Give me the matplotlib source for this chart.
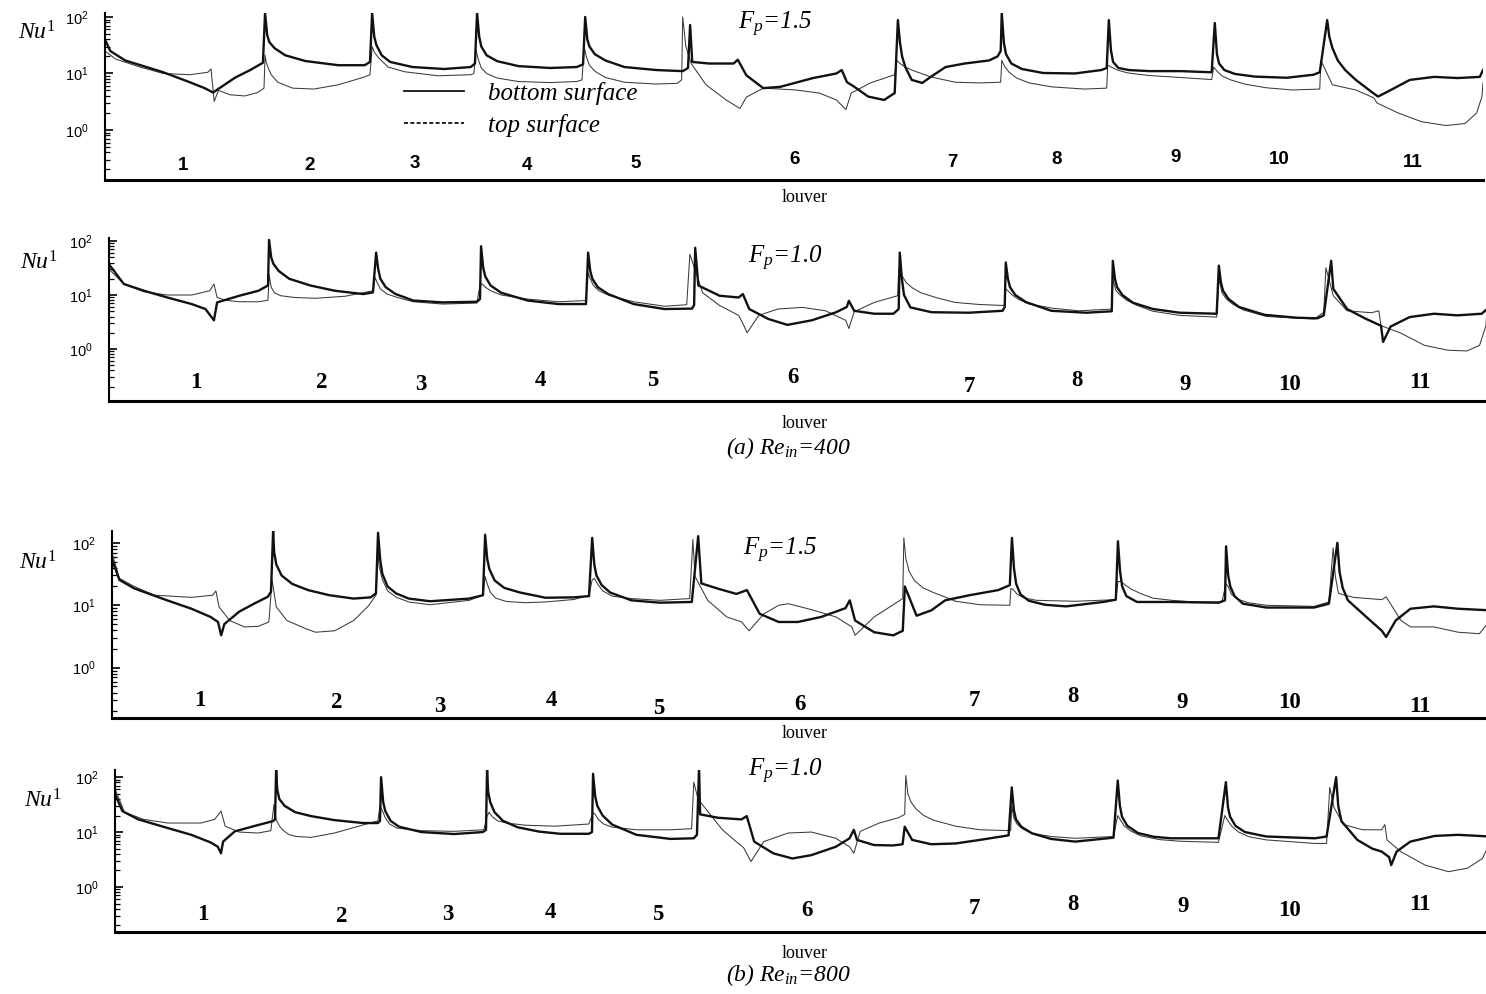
import numpy as np
import matplotlib
matplotlib.use('Agg')
import matplotlib.pyplot as plt
from matplotlib.lines import Line2D
from matplotlib.transforms import blended_transform_factory

# Nu along the fin, x in louver pitches from the entrance
# ---- (a) Re_in=400, Fp=1.5
p1_bottom = [
    (0.00, 40), (0.05, 25), (0.19, 17), (0.55, 10.5), (0.80, 7.0), (0.94, 5.5), (1.02, 4.6),
    (1.08, 5.5), (1.23, 8.5), (1.37, 11.5), (1.49, 15.5),
    (1.51, 118), (1.53, 48), (1.55, 36), (1.60, 28), (1.70, 21), (1.89, 16.6), (2.20, 14), (2.45, 14), (2.50, 16),
    (2.52, 118), (2.54, 45), (2.56, 32), (2.61, 21), (2.69, 16), (2.90, 13), (3.20, 12), (3.45, 13), (3.49, 15),
    (3.51, 118), (3.53, 45), (3.55, 30), (3.60, 21), (3.70, 16.5), (3.90, 13.5), (4.20, 12.5), (4.45, 13), (4.51, 14.5),
    (4.53, 100), (4.55, 40), (4.57, 30), (4.62, 22), (4.72, 17), (4.90, 13), (5.20, 11.5), (5.45, 11), (5.50, 12.5),
    (5.52, 72), (5.54, 16), (5.70, 15), (5.93, 15), (5.97, 17.5), (6.05, 9.3), (6.21, 5.5),
    (6.37, 5.8), (6.68, 8.3), (6.90, 10), (6.95, 11.5), (7.00, 7), (7.07, 5.8), (7.20, 3.9),
    (7.35, 3.4), (7.45, 4.5),
    (7.48, 88), (7.50, 35), (7.52, 20), (7.55, 13), (7.61, 7.7), (7.71, 6.8), (7.79, 8.7), (7.93, 13),
    (8.11, 15), (8.34, 17), (8.42, 20), (8.45, 25),
    (8.46, 118), (8.48, 35), (8.50, 22), (8.55, 15), (8.65, 12), (8.85, 10.2), (9.15, 10), (9.40, 11.5), (9.45, 12.5),
    (9.47, 88), (9.49, 26), (9.51, 16), (9.56, 12.5), (9.66, 11.5), (9.85, 11), (10.15, 11), (10.44, 10.5),
    (10.47, 78), (10.49, 22), (10.51, 15), (10.56, 11.5), (10.66, 9.8), (10.85, 8.8), (11.15, 8.4), (11.40, 9.5), (11.46, 10.5),
    (11.53, 88), (11.55, 45), (11.58, 28), (11.63, 17), (11.70, 11.5), (11.80, 7.7), (11.95, 4.7),
    (12.01, 3.9), (12.13, 5.1), (12.31, 7.7), (12.54, 8.7), (12.76, 8.3), (12.97, 8.7), (13.00, 11.5),
]
p1_top = [
    (0.00, 25), (0.10, 18), (0.33, 13), (0.55, 10), (0.80, 9.5), (0.97, 10.5), (1.00, 12),
    (1.03, 3.2), (1.07, 5), (1.18, 4.2), (1.32, 4.0), (1.44, 4.6), (1.50, 5.5),
    (1.51, 21), (1.52, 16), (1.54, 12.5), (1.57, 9.4), (1.63, 7.0), (1.77, 5.5), (1.97, 5.3), (2.20, 6.3), (2.45, 8.7), (2.50, 9.5),
    (2.52, 30), (2.54, 24), (2.58, 19), (2.67, 13), (2.83, 10.7), (3.14, 9.1), (3.45, 9.5), (3.48, 10),
    (3.50, 26), (3.52, 18), (3.55, 12.5), (3.60, 10), (3.70, 8.3), (3.90, 7.2), (4.20, 6.9), (4.45, 7.2), (4.50, 7.7),
    (4.52, 30), (4.54, 20), (4.57, 14), (4.62, 11), (4.72, 8.5), (4.90, 7), (5.20, 6.5), (5.40, 6.7), (5.44, 7.7),
    (5.45, 100), (5.48, 30), (5.53, 15), (5.67, 6.3), (5.86, 3.4), (5.99, 2.4), (6.05, 3.8),
    (6.21, 5.5), (6.52, 5.1), (6.74, 4.5), (6.90, 3.4), (6.99, 2.3), (7.04, 4.5), (7.22, 6.8), (7.45, 9.5),
    (7.47, 17), (7.50, 15), (7.55, 13), (7.61, 11.5), (7.70, 10), (7.79, 8.7), (8.02, 7), (8.25, 6.8), (8.45, 7),
    (8.46, 17), (8.49, 13), (8.53, 10.5), (8.60, 8.3), (8.72, 6.8), (8.93, 5.8), (9.24, 5.3), (9.45, 5.5),
    (9.46, 14), (9.49, 13), (9.55, 11.5), (9.65, 10.2), (9.85, 9.2), (10.10, 8.6), (10.44, 7.8),
    (10.46, 13), (10.49, 11), (10.54, 9), (10.62, 7.7), (10.75, 6.5), (10.95, 5.6), (11.20, 5.1), (11.46, 5.3),
    (11.47, 17), (11.58, 6.3), (11.80, 5.1), (11.97, 3.7), (12.00, 3.0), (12.20, 2.0),
    (12.42, 1.4), (12.65, 1.2), (12.83, 1.3), (12.94, 2.0), (12.99, 3.9), (13.00, 6.8),
]
# ---- (a) Re_in=400, Fp=1.0
p2_bottom = [
    (0.00, 37), (0.14, 16), (0.33, 12), (0.55, 9), (0.78, 6.8), (0.91, 5.5), (0.99, 3.4),
    (1.02, 7.3), (1.23, 9.7), (1.41, 12), (1.50, 15),
    (1.51, 105), (1.53, 50), (1.55, 38), (1.60, 28), (1.70, 20), (1.90, 15), (2.13, 12), (2.40, 10.4), (2.49, 11.2),
    (2.52, 61), (2.54, 30), (2.56, 20), (2.61, 14), (2.70, 10.5), (2.87, 7.9), (3.15, 7.3), (3.47, 7.5), (3.50, 8.4),
    (3.51, 80), (3.53, 32), (3.55, 22), (3.60, 15), (3.70, 11), (3.95, 7.9), (4.24, 6.8), (4.50, 6.8),
    (4.52, 61), (4.54, 28), (4.56, 20), (4.61, 14), (4.71, 10.4), (4.95, 6.8), (5.24, 5.5), (5.50, 5.6), (5.52, 6.5),
    (5.53, 75), (5.56, 15), (5.76, 9.7), (5.94, 9), (5.98, 10.4), (6.04, 5.5), (6.22, 3.6),
    (6.40, 2.8), (6.63, 3.4), (6.86, 4.8), (6.96, 6), (6.98, 7.8), (7.03, 5.1), (7.22, 4.5),
    (7.40, 4.5), (7.45, 5.5),
    (7.46, 61), (7.48, 20), (7.50, 10), (7.56, 5.9), (7.76, 4.8), (8.11, 4.7), (8.43, 5.1), (8.45, 6),
    (8.46, 40), (8.48, 20), (8.50, 14), (8.55, 10), (8.65, 7.4), (8.89, 5.1), (9.22, 4.7), (9.46, 5),
    (9.47, 43), (9.49, 20), (9.51, 14), (9.56, 10), (9.66, 7.2), (9.85, 5.5), (10.10, 4.7), (10.45, 4.5),
    (10.47, 35), (10.49, 17), (10.51, 12), (10.56, 8.5), (10.66, 6), (10.90, 4.3), (11.20, 3.8), (11.40, 3.7), (11.46, 4.2),
    (11.53, 43), (11.55, 13), (11.68, 5.5), (11.86, 3.6), (12.00, 2.7), (12.02, 1.35),
    (12.09, 2.6), (12.27, 3.9), (12.50, 4.5), (12.72, 4.2), (12.95, 4.5), (13.00, 5.5),
]
p2_top = [
    (0.00, 30), (0.14, 16), (0.33, 11.5), (0.55, 10), (0.78, 10), (0.95, 12), (0.99, 16),
    (1.02, 9), (1.10, 8), (1.23, 7.5), (1.41, 7.5), (1.50, 8),
    (1.51, 24), (1.53, 14), (1.56, 11), (1.62, 9.7), (1.75, 9), (1.95, 8.7), (2.23, 9.5), (2.49, 12),
    (2.51, 21), (2.53, 17), (2.56, 13), (2.62, 10.5), (2.72, 9), (2.87, 7.5), (3.15, 6.8), (3.47, 7.1), (3.50, 15),
    (3.52, 16), (3.55, 14), (3.60, 12), (3.70, 10), (3.95, 8.4), (4.24, 7.5), (4.50, 7.9),
    (4.52, 26), (4.54, 20), (4.57, 15), (4.62, 12), (4.72, 9.8), (4.95, 7.5), (5.24, 6.2), (5.45, 6.6),
    (5.48, 57), (5.60, 11), (5.76, 6.4), (5.94, 4.2), (5.99, 2.7), (6.02, 2.0), (6.13, 4.2),
    (6.31, 5.5), (6.54, 5.9), (6.76, 5.1), (6.95, 3.4), (6.98, 2.4), (7.03, 4.9), (7.22, 7.3), (7.44, 9.7),
    (7.45, 30), (7.48, 23), (7.52, 17), (7.58, 13.5), (7.66, 11), (7.80, 9), (7.98, 7.3), (8.20, 6.7), (8.43, 6.4), (8.45, 6.6),
    (8.46, 13), (8.48, 12), (8.52, 10), (8.58, 8.3), (8.68, 6.8), (8.90, 5.7), (9.15, 5.1), (9.46, 5.5),
    (9.47, 20), (9.50, 12), (9.54, 10), (9.60, 8), (9.70, 6.4), (9.85, 5.0), (10.10, 4.2), (10.45, 3.9),
    (10.47, 20), (10.50, 11), (10.54, 8.5), (10.60, 6.8), (10.70, 5.3), (10.92, 4.0), (11.37, 3.6), (11.46, 4.8),
    (11.48, 32), (11.55, 9.7), (11.68, 5.1), (11.91, 4.7), (11.98, 5.1), (12.00, 2.7),
    (12.18, 2.0), (12.41, 1.17), (12.63, 0.95), (12.81, 0.92), (12.93, 1.17), (12.99, 2.7), (13.00, 5.5),
]
# ---- (b) Re_in=800, Fp=1.5
p3_bottom = [
    (0.00, 54), (0.07, 25.5), (0.21, 18.6), (0.52, 12), (0.75, 8.8), (0.93, 6.5), (1.00, 5.4),
    (1.03, 3.3), (1.06, 5), (1.20, 7.9), (1.34, 10.6), (1.47, 13.7), (1.50, 16.5),
    (1.52, 155), (1.53, 70), (1.55, 45), (1.60, 30), (1.70, 22), (1.85, 17.5), (2.05, 14.5), (2.28, 12.8), (2.44, 13.4), (2.49, 15.5),
    (2.51, 145), (2.53, 54), (2.55, 32), (2.60, 20), (2.68, 15.5), (2.80, 12.8), (3.00, 11.6), (3.37, 12.8), (3.50, 14.5),
    (3.52, 135), (3.54, 55), (3.56, 38), (3.61, 25), (3.70, 19), (3.85, 16), (4.09, 13.2), (4.36, 13.4), (4.50, 14),
    (4.53, 120), (4.55, 45), (4.57, 30), (4.62, 21), (4.70, 16), (4.90, 12), (5.17, 11), (5.47, 11.3),
    (5.53, 128), (5.56, 22.4), (5.71, 18.6), (5.89, 15.2), (5.99, 17.5), (6.11, 7.3), (6.29, 5.4),
    (6.47, 5.4), (6.69, 6.5), (6.92, 9), (6.96, 12), (7.01, 5.7), (7.19, 3.7), (7.37, 3.3), (7.46, 3.9),
    (7.48, 20), (7.59, 6.8), (7.73, 8.3), (7.86, 12), (8.09, 14.5), (8.36, 17.5), (8.47, 21),
    (8.49, 120), (8.51, 38), (8.53, 22), (8.57, 15), (8.65, 11.8), (8.80, 10.2), (9.00, 9.6), (9.35, 11.3), (9.47, 12.3),
    (9.49, 106), (9.51, 35), (9.53, 20), (9.57, 14), (9.67, 11.3), (9.99, 11.3), (10.44, 11), (10.50, 12),
    (10.51, 88), (10.53, 30), (10.55, 20), (10.59, 14), (10.67, 10.6), (10.89, 9.2), (11.34, 9.2), (11.48, 10.6),
    (11.56, 100), (11.58, 35), (11.61, 19), (11.66, 12), (11.80, 7.3), (11.98, 3.9), (12.02, 3.1), (12.11, 5.7),
    (12.25, 8.8), (12.47, 9.6), (12.70, 8.8), (13.00, 8.3),
]
p3_top = [
    (0.00, 69), (0.07, 27), (0.21, 20), (0.40, 14.5), (0.75, 13.4), (0.95, 14.5), (0.98, 17),
    (1.01, 9.4), (1.11, 5.7), (1.25, 4.5), (1.38, 4.6), (1.48, 5.4),
    (1.51, 25.5), (1.55, 9.4), (1.65, 5.7), (1.83, 4.2), (1.92, 3.7), (2.10, 3.9), (2.28, 5.7),
    (2.42, 9.8), (2.49, 14.5),
    (2.51, 69), (2.52, 42), (2.55, 26), (2.60, 17), (2.68, 13.5), (2.80, 11.3), (3.00, 10.2), (3.37, 12), (3.50, 14.5),
    (3.52, 29), (3.54, 22), (3.57, 16), (3.62, 13), (3.72, 11.5), (3.90, 11), (4.09, 11.3), (4.36, 12.4), (4.50, 14.5),
    (4.53, 25.5), (4.55, 27), (4.58, 22), (4.63, 17), (4.72, 14), (4.90, 12.8), (5.17, 12), (5.45, 12.8),
    (5.48, 113), (5.50, 29), (5.62, 12), (5.80, 6.5), (5.94, 5.4), (6.01, 3.9), (6.15, 7.3),
    (6.29, 10), (6.38, 10.6), (6.60, 8.5), (6.83, 6.5), (6.98, 4.5), (7.01, 3.3), (7.19, 6.5), (7.46, 12.8),
    (7.47, 120), (7.49, 55), (7.52, 35), (7.57, 25), (7.65, 19), (7.75, 16), (7.96, 11.6), (8.19, 10.2), (8.47, 10),
    (8.48, 18.6), (8.50, 18), (8.54, 15), (8.60, 13.2), (8.72, 12), (9.09, 11.6), (9.47, 12.3),
    (9.49, 24), (9.52, 24), (9.56, 21), (9.62, 18), (9.70, 15.5), (9.82, 13), (10.00, 12), (10.22, 11.3), (10.47, 11.3),
    (10.51, 22), (10.53, 20), (10.56, 15), (10.62, 12.5), (10.72, 11), (10.89, 10), (11.34, 9.6), (11.48, 11.3),
    (11.52, 83), (11.54, 30), (11.57, 15.5), (11.71, 13.4), (11.98, 12.3), (12.02, 13.7), (12.07, 10),
    (12.16, 5.7), (12.25, 4.5), (12.47, 4.5), (12.70, 3.7), (12.90, 3.5), (13.00, 5.7),
]
# ---- (b) Re_in=800, Fp=1.0
p4_bottom = [
    (0.00, 49), (0.07, 24), (0.22, 17), (0.50, 11.8), (0.72, 8.9), (0.90, 6.5), (0.97, 5.4),
    (1.00, 4.1), (1.02, 6.7), (1.13, 10.3), (1.31, 12.8), (1.49, 15.8), (1.51, 17),
    (1.52, 143), (1.53, 60), (1.55, 40), (1.60, 30), (1.70, 23), (1.85, 19.5), (2.07, 16.5), (2.34, 14.6), (2.48, 14.6), (2.50, 16),
    (2.51, 100), (2.53, 35), (2.55, 24), (2.60, 16), (2.68, 12.5), (2.89, 10), (3.20, 9.2), (3.47, 10), (3.50, 11),
    (3.51, 143), (3.52, 55), (3.54, 35), (3.58, 23), (3.66, 16), (3.80, 12.2), (4.00, 10.2), (4.20, 9.3), (4.47, 9.3), (4.50, 10),
    (4.51, 115), (4.53, 45), (4.55, 30), (4.60, 20), (4.69, 13.7), (4.92, 8.9), (5.24, 7.5), (5.46, 7.7), (5.49, 8.9),
    (5.51, 150), (5.52, 21), (5.69, 18.2), (5.91, 17), (5.96, 19.5), (6.03, 6.7), (6.21, 4.1),
    (6.39, 3.3), (6.57, 3.8), (6.80, 5.4), (6.93, 7.7), (6.97, 11), (7.00, 7.2), (7.16, 5.8),
    (7.34, 5.7), (7.43, 6.0), (7.45, 12.5),
    (7.52, 7.2), (7.70, 6.0), (7.93, 6.2), (8.16, 7.2), (8.43, 8.7),
    (8.46, 65), (8.48, 25), (8.50, 17), (8.55, 12.5), (8.65, 9.5), (8.83, 7.5), (9.06, 6.7), (9.42, 7.9),
    (9.46, 87), (9.48, 30), (9.50, 19), (9.55, 13), (9.65, 9.6), (9.80, 8.2), (9.96, 7.7), (10.41, 7.7),
    (10.48, 81), (10.50, 28), (10.52, 19), (10.57, 13), (10.66, 10), (10.86, 8.3), (11.32, 7.7), (11.43, 8.3),
    (11.52, 100), (11.54, 30), (11.57, 15.8), (11.72, 7.2), (11.86, 5.0), (11.95, 4.4), (12.02, 3.5),
    (12.04, 2.5), (12.09, 4.4), (12.22, 6.7), (12.45, 8.5), (12.67, 8.9), (12.97, 8.3),
]
p4_top = [
    (0.00, 61), (0.09, 23), (0.27, 17), (0.50, 14.6), (0.81, 14.6), (0.94, 17), (1.00, 24),
    (1.04, 12.8), (1.17, 10), (1.35, 9.6), (1.47, 10.6), (1.50, 32),
    (1.52, 17), (1.55, 13), (1.58, 11), (1.64, 9), (1.71, 8.3), (1.85, 8), (2.07, 9.6), (2.30, 12.8), (2.48, 16), (2.50, 30),
    (2.52, 25), (2.55, 18.2), (2.59, 14), (2.66, 11.8), (2.89, 10.6), (3.20, 10.3), (3.48, 11), (3.51, 19.5),
    (3.53, 23), (3.56, 19), (3.61, 16), (3.70, 14.5), (3.88, 13.3), (4.15, 12.8), (4.47, 14), (4.51, 22.5),
    (4.53, 21), (4.56, 17), (4.61, 14), (4.69, 12.3), (4.92, 11), (5.24, 11), (5.44, 11.5),
    (5.46, 81), (5.50, 40), (5.59, 24), (5.73, 11), (5.86, 6.7), (5.93, 5.2), (6.00, 2.9), (6.12, 6.7),
    (6.35, 9.6), (6.57, 10), (6.80, 7.7), (6.93, 5.4), (6.97, 4.1), (7.03, 10.3), (7.21, 14.6),
    (7.39, 18.2), (7.45, 21),
    (7.46, 107), (7.48, 50), (7.51, 35), (7.56, 26), (7.63, 20), (7.72, 16.5), (7.93, 12.8), (8.16, 11), (8.45, 10.6),
    (8.46, 30), (8.48, 18), (8.51, 14), (8.56, 11.5), (8.65, 9.5), (8.83, 8.3), (9.06, 7.7), (9.42, 8.3),
    (9.46, 20), (9.49, 16), (9.52, 13), (9.58, 10.5), (9.68, 8.5), (9.85, 7.3), (10.05, 6.8), (10.41, 6.5),
    (10.47, 20), (10.50, 16), (10.54, 12.5), (10.60, 10), (10.70, 8.2), (10.86, 7.2), (11.32, 6.2), (11.43, 6.2),
    (11.46, 65), (11.50, 28), (11.59, 13.7), (11.77, 11), (11.95, 11), (11.98, 13.7), (12.00, 7.2),
    (12.13, 4.4), (12.36, 2.5), (12.58, 1.9), (12.76, 2.2), (12.90, 3.3), (12.97, 6.2),
]

louvers = ['1', '2', '3', '4', '5', '6', '7', '8', '9', '10', '11']
fp_values = ['1.5', '1.0', '1.5', '1.0']
re_values = ['400', '800']

# where the louver numbers sit (x in pitches, y in pixels of the page)
lab_x = [
    [0.74, 1.93, 2.92, 3.98, 5.01, 6.51, 7.99, 8.98, 10.10, 11.08, 12.34],
    [0.82, 2.01, 2.94, 4.07, 5.13, 6.45, 8.12, 9.13, 10.15, 11.14, 12.37],
    [0.83, 2.12, 3.09, 4.15, 5.16, 6.49, 8.14, 9.07, 10.10, 11.11, 12.34],
    [0.83, 2.14, 3.14, 4.11, 5.12, 6.53, 8.11, 9.04, 10.08, 11.08, 12.31],
]
lab_y = [
    [165, 165, 163, 166, 163, 160, 162, 160, 158, 160, 162],
    [383, 383, 385, 380, 381, 378, 386, 380, 385, 385, 382],
    [700, 702, 707, 700, 708, 705, 700, 697, 702, 702, 707],
    [915, 916, 914, 912, 915, 911, 908, 905, 906, 910, 905],
]

W, H = 1486, 994
# left, top, bottom of each panel in page pixels; y limits as log10
boxes = [(105, 13, 180), (109, 238, 401), (112, 531, 718), (115, 770, 932)]
ylogs = [(-0.885, 2.07), (-0.963, 2.056), (-0.806, 2.19), (-0.82, 2.13)]
nu_pos = [(37, 32), (39, 262), (38, 563), (43, 800)]
fp_pos = [(775, 24), (785, 258), (780, 550), (785, 771)]
louver_y = [197, 424, 733, 953]

plt.rcParams['mathtext.fontset'] = 'custom'
plt.rcParams['mathtext.rm'] = 'Liberation Serif'
plt.rcParams['mathtext.it'] = 'Liberation Serif:italic'
plt.rcParams['mathtext.bf'] = 'Liberation Serif:bold'

fig = plt.figure(figsize=(W / 100, H / 100), dpi=100)
fig.patch.set_facecolor('white')

data = [(p1_bottom, p1_top), (p2_bottom, p2_top), (p3_bottom, p3_top), (p4_bottom, p4_top)]

for i, (bot, top) in enumerate(data):
    left, ytop, ybot = boxes[i]
    ax = fig.add_axes([left / W, 1 - ybot / H, 13 * 106 / W, (ybot - ytop) / H])
    ax.set_yscale('log')
    ax.set_xlim(0, 13)
    ax.set_ylim(10 ** ylogs[i][0], 10 ** ylogs[i][1])

    xt, yt = zip(*top)
    ax.plot(xt, yt, '-', color='#3a3a3a', lw=0.75)
    xb, yb = zip(*bot)
    ax.plot(xb, yb, '-', color='#111111', lw=1.7)

    for s in ['top', 'right']:
        ax.spines[s].set_visible(False)
    ax.spines['left'].set_linewidth(1.5)
    ax.spines['bottom'].set_linewidth(2.2)
    ax.set_xticks([])
    ax.set_yticks([1, 10, 100])
    ax.tick_params(axis='y', which='major', direction='in', length=6, width=1.2, pad=12,
                   labelsize=10.5)
    ax.tick_params(axis='y', which='minor', direction='in', length=3.5, width=0.9)
    for lab in ax.get_yticklabels():
        lab.set_fontfamily('Liberation Sans')

    # louver numbers
    tr = blended_transform_factory(ax.transData, fig.transFigure)
    for k, name in enumerate(louvers):
        if i == 0:
            ax.text(lab_x[i][k], 1 - lab_y[i][k] / H, name, transform=tr, ha='center',
                    va='center', fontsize=13.5, fontweight='bold', family='Liberation Sans')
        else:
            ax.text(lab_x[i][k], 1 - lab_y[i][k] / H, name, transform=tr, ha='center',
                    va='center', fontsize=16.5, fontweight='bold', family='Liberation Serif')

    fig.text(nu_pos[i][0] / W, 1 - nu_pos[i][1] / H, r'$Nu^{\mathit{1}}$', ha='center',
             va='center', fontsize=17)
    fig.text(fp_pos[i][0] / W, 1 - fp_pos[i][1] / H, '$F_p$=' + fp_values[i], ha='center',
             va='center', fontsize=18, family='Liberation Serif', style='italic')
    fig.text(805 / W, 1 - louver_y[i] / H, 'louver', ha='center', va='center',
             fontsize=13, family='Liberation Serif')

    if i == 0:
        handles = [Line2D([], [], color='#111111', lw=1.3),
                   Line2D([], [], color='#111111', lw=1.3, ls=(0, (2.2, 1.3)))]
        ax.legend(handles, ['bottom surface', 'top surface'], loc='upper left',
                  bbox_to_anchor=(404 / W, 1 - 82 / H), bbox_transform=fig.transFigure,
                  frameon=False, handlelength=2.4, handletextpad=0.95, labelspacing=0.35,
                  borderpad=0, borderaxespad=0,
                  prop={'family': 'Liberation Serif', 'style': 'italic', 'size': 18})

fig.text(788 / W, 1 - 448 / H, '(a) $Re_{in}$=' + re_values[0], ha='center', va='center',
         fontsize=17, family='Liberation Serif', style='italic')
fig.text(788 / W, 1 - 975 / H, '(b) $Re_{in}$=' + re_values[1], ha='center', va='center',
         fontsize=17, family='Liberation Serif', style='italic')

fig.savefig('out.png', dpi=100)
